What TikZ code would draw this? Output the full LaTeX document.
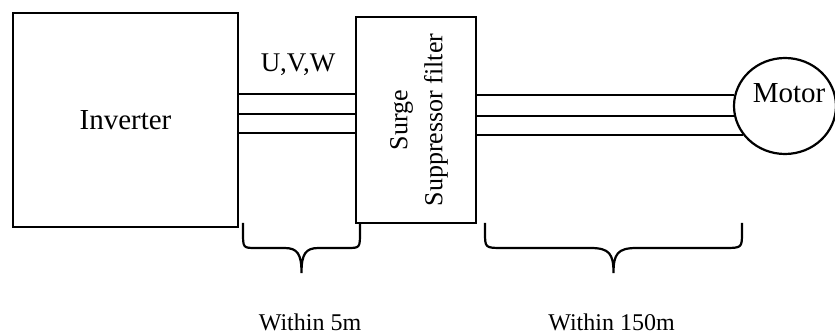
\documentclass[tikz,border=0pt]{standalone}
\usepackage{fontspec}
\setmainfont{Liberation Serif}
\usetikzlibrary{shapes.geometric}

\begin{document}
\begin{tikzpicture}[x=0.5pt,y=-0.5pt,line width=1.1pt,
    unitbox/.style={draw, inner sep=0pt},
    bigtext/.style={font=\fontsize{14.5}{17}\selectfont},
    lentext/.style={font=\fontsize{12}{14}\selectfont, anchor=base},
  ]
    \useasboundingbox (0,0) rectangle (835,336);
    \node[unitbox, bigtext, minimum width=112.5pt, minimum height=107pt] (inv) at (125.5,120) {Inverter};
    \node[unitbox, minimum width=60pt, minimum height=103pt] (filt) at (416,120) {};
    \node[rotate=90, align=center, font=\fontsize{13}{17.5}\selectfont] (filtname) at (419,120) {Surge\\Suppressor filter};
    \node[draw, ellipse, minimum width=51pt, minimum height=48pt, inner sep=0pt] (motor) at (785,106) {};
    \node[bigtext, anchor=base] (motorname) at (789,103) {Motor};
    \node[font=\fontsize{13.5}{16}\selectfont, anchor=base] (uvw) at (298,72) {U,V,W};
    \foreach \ly [count=\i] in {94,114,133} {
        \coordinate (w\i) at (0,\ly);
        \draw (inv.east |- w\i) -- (filt.west |- w\i);
    }
    \foreach \ang in {168.66,191.34,215.5}
        \draw (filt.east |- motor.\ang) -- (motor.\ang);
    \foreach \bl/\br/\re/\rm in {243/360/13/17,485/742/18/23} {
        \pgfmathsetmacro\bm{(\bl+\br)/2}
        \draw (\bl,223) -- (\bl,232) .. controls (\bl,248) .. ({\bl+\re},248)
            -- ({\bm-\rm},248) .. controls ({\bm-4},248) and (\bm,254) .. (\bm,273)
            .. controls (\bm,254) and ({\bm+4},248) .. ({\bm+\rm},248)
            -- ({\br-\re},248) .. controls (\br,248) .. (\br,232) -- (\br,223);
    }
    \node[lentext] (len1) at (310,330) {Within 5m};
    \node[lentext] (len2) at (611.5,330) {Within 150m};
\end{tikzpicture}
\end{document}
